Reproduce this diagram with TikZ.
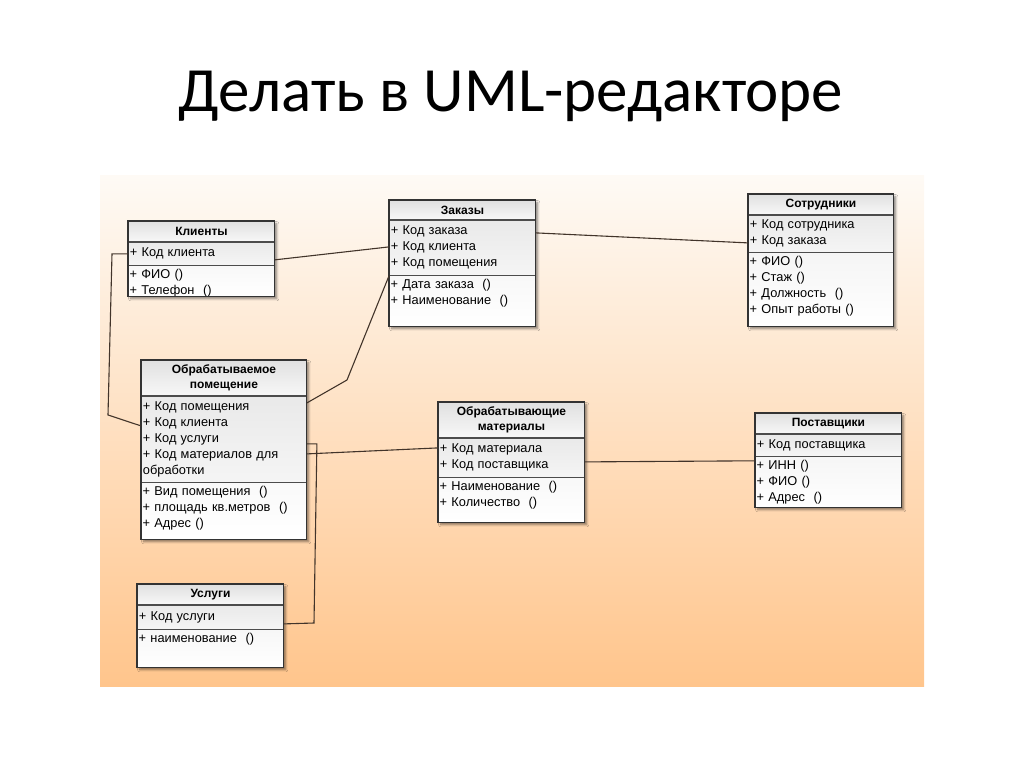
\documentclass[tikz,border=0pt]{standalone}
\usepackage{fontspec}
\setmainfont{Liberation Sans}
\newfontfamily\slidefont{Carlito}
\usetikzlibrary{calc,shadows.blur}

\definecolor{linkcol}{RGB}{66,52,42}
\definecolor{paneltop}{RGB}{254,250,245}
\definecolor{panelmid}{RGB}{252,226,198}
\definecolor{panelbot}{RGB}{255,197,140}

\tikzset{
  umlframe/.style={anchor=north west,inner sep=0pt,top color=gray!14,bottom color=white,
    blur shadow={shadow xshift=2.5pt,shadow yshift=-2.5pt,shadow blur steps=6,shadow opacity=45}},
  umledge/.style={draw=black!80,line width=1.3pt},
  umlhead/.style={anchor=north west,draw=black!70,line width=0.9pt,top color=gray!24,bottom color=gray!6,
    inner sep=1pt,align=center,font=\fontsize{12}{15.5}\selectfont\bfseries},
  umlattr/.style={anchor=north west,draw=black!70,line width=0.9pt,top color=gray!17,bottom color=gray!8,
    inner xsep=1.5pt,inner ysep=2pt,align=left,font=\fontsize{12.8}{16}\selectfont},
  umlmeth/.style={anchor=north west,inner xsep=1.5pt,inner ysep=3.5pt,align=left,font=\fontsize{12.8}{16}\selectfont},
  link/.style={draw=linkcol,line width=1.1pt}
}

% name, pos, width, h1, h2, h3, title, attrs, methods
\newcommand{\umlclass}[9]{%
  \pgfmathsetlengthmacro\umlw{#3}%
  \pgfmathsetlengthmacro\umltw{#3-3}%
  \pgfmathsetlengthmacro\umlh{#4+#5+#6}%
  \node[umlframe,minimum width=\umlw,minimum height=\umlh] (#1) at (#2) {};
  \node[umlhead,minimum width=\umlw,minimum height=#4,text width=\umltw] (#1-t) at (#1.north west) {#7};
  \node[umlattr,minimum width=\umlw,minimum height=#5,text width=\umltw] (#1-a) at (#1-t.south west) {#8};
  \node[umlmeth,text width=\umltw] (#1-m) at (#1-a.south west) {#9};
  \draw[umledge] (#1.north west) rectangle (#1.south east);
}

\begin{document}
\begin{tikzpicture}[x=1pt,y=-1pt]
  \useasboundingbox (0,0) rectangle (1024,767);
  %заголовок
  \node[font=\slidefont\fontsize{63}{76}\selectfont,anchor=base] (title) at (511,112) {Делать в UML-редакторе};
  %фон
  \shade[top color=paneltop,middle color=panelmid,bottom color=panelbot] (100,176) rectangle (924,686);
  %классы
  \umlclass{kl}{128,221}{146}{20}{23}{32}{Клиенты}
    {+ Код клиента}{+ ФИО ()\\+ Телефон\ \ ()}
  \umlclass{zak}{389,200}{146}{19}{55}{52}{Заказы}
    {+ Код заказа\\+ Код клиента\\+ Код помещения}{+ Дата заказа\ \ ()\\+ Наименование\ \ ()}
  \umlclass{sot}{748,194}{145}{20}{37}{75}{Сотрудники}
    {+ Код сотрудника\\+ Код заказа}{+ ФИО ()\\+ Стаж ()\\+ Должность\ \ ()\\+ Опыт работы ()}
  \umlclass{pom}{141,360}{165}{35}{86}{58}{Обрабатываемое\\помещение}
    {+ Код помещения\\+ Код клиента\\+ Код услуги\\+ Код материалов для\\обработки}
    {+ Вид помещения\ \ ()\\+ площадь кв.метров\ \ ()\\+ Адрес ()}
  \umlclass{mat}{438,402}{146}{35}{39}{46}{Обрабатывающие\\материалы}
    {+ Код материала\\+ Код поставщика}{+ Наименование\ \ ()\\+ Количество\ \ ()}
  \umlclass{post}{755,413}{146}{20}{22}{52}{Поставщики}
    {+ Код поставщика}{+ ИНН ()\\+ ФИО ()\\+ Адрес\ \ ()}
  \umlclass{usl}{137,584}{146}{20}{24}{39}{Услуги}
    {+ Код услуги}{+ наименование\ \ ()}
  %связи
  \draw[link] ([yshift=-6pt]kl-a.east) -- ([yshift=-27pt]zak-a.north west);
  \draw[link] ([yshift=-13pt]zak-a.north east) -- ([yshift=-28pt]sot-a.north west);
  \draw[link] (zak-a.south west) -- (347,380) -- ([yshift=-7pt]pom-a.north east);
  \draw[link] (kl-a.west) -- ([xshift=-16pt]kl-a.west) -- (108,415) -- ([yshift=-30pt]pom-a.north west);
  \draw[link] ([yshift=-48pt]pom-a.north east) -- ++(10,0) -- (314,623) -- ([yshift=-19pt]usl-a.north east);
  \draw[link] ([yshift=-58pt]pom-a.north east) -- ([yshift=-10pt]mat-a.north west);
  \draw[link] ([yshift=-24pt]mat-a.north east) -- ([yshift=-4pt]post-a.south west);
\end{tikzpicture}
\end{document}
